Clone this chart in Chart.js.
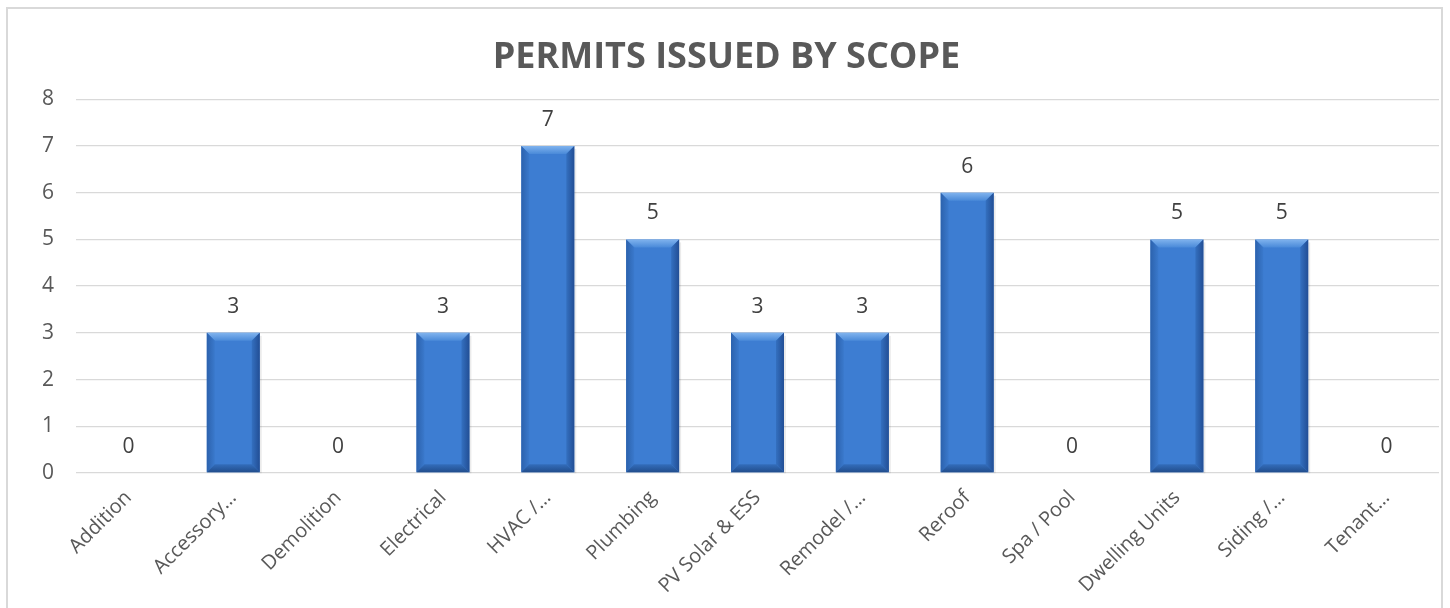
<!DOCTYPE html>
<html>
<head>
<meta charset="utf-8">
<script src="https://cdn.jsdelivr.net/npm/chart.js@4.4.1/dist/chart.umd.min.js"></script>
<style>
  html, body { margin: 0; padding: 0; background: #fff; width: 1450px; height: 608px; overflow: hidden; }
  #frame { position: absolute; left: 6px; top: 7px; width: 1437px; height: 640px; border: 2px solid #d9d9d9; box-sizing: border-box; }
  #wrap { position: absolute; left: 0; top: 0; width: 1450px; height: 608px; }
</style>
</head>
<body>
<div id="frame"></div>
<div id="wrap"><canvas id="c" width="1450" height="608"></canvas></div>
<script>
const chartTitle = "PERMITS ISSUED BY SCOPE";
const categories = ["Addition", "Accessory…", "Demolition", "Electrical", "HVAC /…", "Plumbing", "PV Solar & ESS", "Remodel /…", "Reroof", "Spa / Pool", "Dwelling Units", "Siding /…", "Tenant…"];
const permits = [0, 3, 0, 3, 7, 5, 3, 3, 6, 0, 5, 5, 0];
const yTicks = [0, 1, 2, 3, 4, 5, 6, 7, 8];

const FONT = "'Open Sans', 'DejaVu Sans', sans-serif";

function barGradient(ctx) {
  const chart = ctx.chart;
  const el = ctx.element;
  if (!el || el.x === undefined || !chart.chartArea) return '#3d7dd2';
  const w = el.width || 53;
  const l = el.x - w / 2, r = el.x + w / 2;
  const g = chart.ctx.createLinearGradient(l, 0, r, 0);
  g.addColorStop(0, '#2a5ea8');
  g.addColorStop(0.12, '#3877c9');
  g.addColorStop(0.5, '#3e7fd1');
  g.addColorStop(0.88, '#3673c3');
  g.addColorStop(1, '#27559c');
  return g;
}

const bevelPlugin = {
  id: 'bevel',
  beforeDraw(chart) {
    if (chart.titleBlock) { chart.titleBlock.left = 14; }
  },
  afterDatasetDraw(chart, args) {
    const meta = args.meta;
    const c = chart.ctx;
    meta.data.forEach((bar, i) => {
      if (!permits[i]) return;
      const w = bar.width, l = bar.x - w / 2, r = bar.x + w / 2;
      const t = bar.y, b = bar.base;
      const h = b - t;
      const bv = Math.min(8, h / 3);
      c.save();
      let g = c.createLinearGradient(0, t, 0, t + bv);
      g.addColorStop(0, '#80b3ee');
      g.addColorStop(1, '#4a8ad9');
      c.fillStyle = g;
      c.beginPath();
      c.moveTo(l, t); c.lineTo(r, t); c.lineTo(r - bv, t + bv); c.lineTo(l + bv, t + bv); c.closePath();
      c.fill();
      g = c.createLinearGradient(l, 0, l + bv, 0);
      g.addColorStop(0, '#2c62ad');
      g.addColorStop(1, '#3a79cc');
      c.fillStyle = g;
      c.beginPath();
      c.moveTo(l, t); c.lineTo(l + bv, t + bv); c.lineTo(l + bv, b - bv); c.lineTo(l, b); c.closePath();
      c.fill();
      g = c.createLinearGradient(r - bv, 0, r, 0);
      g.addColorStop(0, '#3470c0');
      g.addColorStop(1, '#224e95');
      c.fillStyle = g;
      c.beginPath();
      c.moveTo(r, t); c.lineTo(r - bv, t + bv); c.lineTo(r - bv, b - bv); c.lineTo(r, b); c.closePath();
      c.fill();
      g = c.createLinearGradient(0, b - bv, 0, b);
      g.addColorStop(0, '#336dbb');
      g.addColorStop(1, '#214d8c');
      c.fillStyle = g;
      c.beginPath();
      c.moveTo(l, b); c.lineTo(l + bv, b - bv); c.lineTo(r - bv, b - bv); c.lineTo(r, b); c.closePath();
      c.fill();
      c.fillStyle = 'rgba(0,0,0,0.08)';
      c.fillRect(r, t + 3, 2, h - 2);
      c.restore();
    });
  },
  afterDatasetsDraw(chart) {
    const meta = chart.getDatasetMeta(0);
    const c = chart.ctx;
    c.save();
    c.font = "21px " + FONT;
    c.fillStyle = '#404040';
    c.textAlign = 'center';
    c.textBaseline = 'middle';
    meta.data.forEach((bar, i) => {
      c.fillText(String(permits[i]), bar.x, bar.y - 26);
    });
    c.restore();
  }
};

new Chart(document.getElementById('c'), {
  type: 'bar',
  data: {
    labels: categories,
    datasets: [{
      data: permits,
      backgroundColor: barGradient,
      borderWidth: 0,
      barPercentage: 0.505,
      categoryPercentage: 1.0
    }]
  },
  options: {
    responsive: false,
    animation: false,
    devicePixelRatio: 1,
    layout: { padding: { left: 0, right: 11, top: 0, bottom: 0 } },
    plugins: {
      legend: { display: false },
      tooltip: { enabled: false },
      title: {
        display: true,
        text: chartTitle,
        color: '#595959',
        font: { family: FONT, size: 36, weight: 'bold', lineHeight: 1.2 },
        padding: { top: 36, bottom: 20 }
      }
    },
    scales: {
      x: {
        offset: true,
        grid: { display: false, drawTicks: false },
        border: { display: false },
        ticks: {
          color: '#595959',
          font: { family: FONT, size: 20 },
          maxRotation: 45, minRotation: 45,
          autoSkip: false,
          padding: 13
        },
        afterFit(scale) { scale.height = 135; }
      },
      y: {
        min: 0, max: 8,
        afterBuildTicks(scale) { scale.ticks = yTicks.map(v => ({ value: v })); },
        grid: { color: '#d9d9d9', lineWidth: 1.3, drawTicks: false },
        border: { display: false },
        ticks: {
          color: '#595959',
          font: { family: FONT, size: 21 },
          padding: 22
        },
        afterFit(scale) { scale.width = 76; }
      }
    }
  },
  plugins: [bevelPlugin]
});
</script>
</body>
</html>
